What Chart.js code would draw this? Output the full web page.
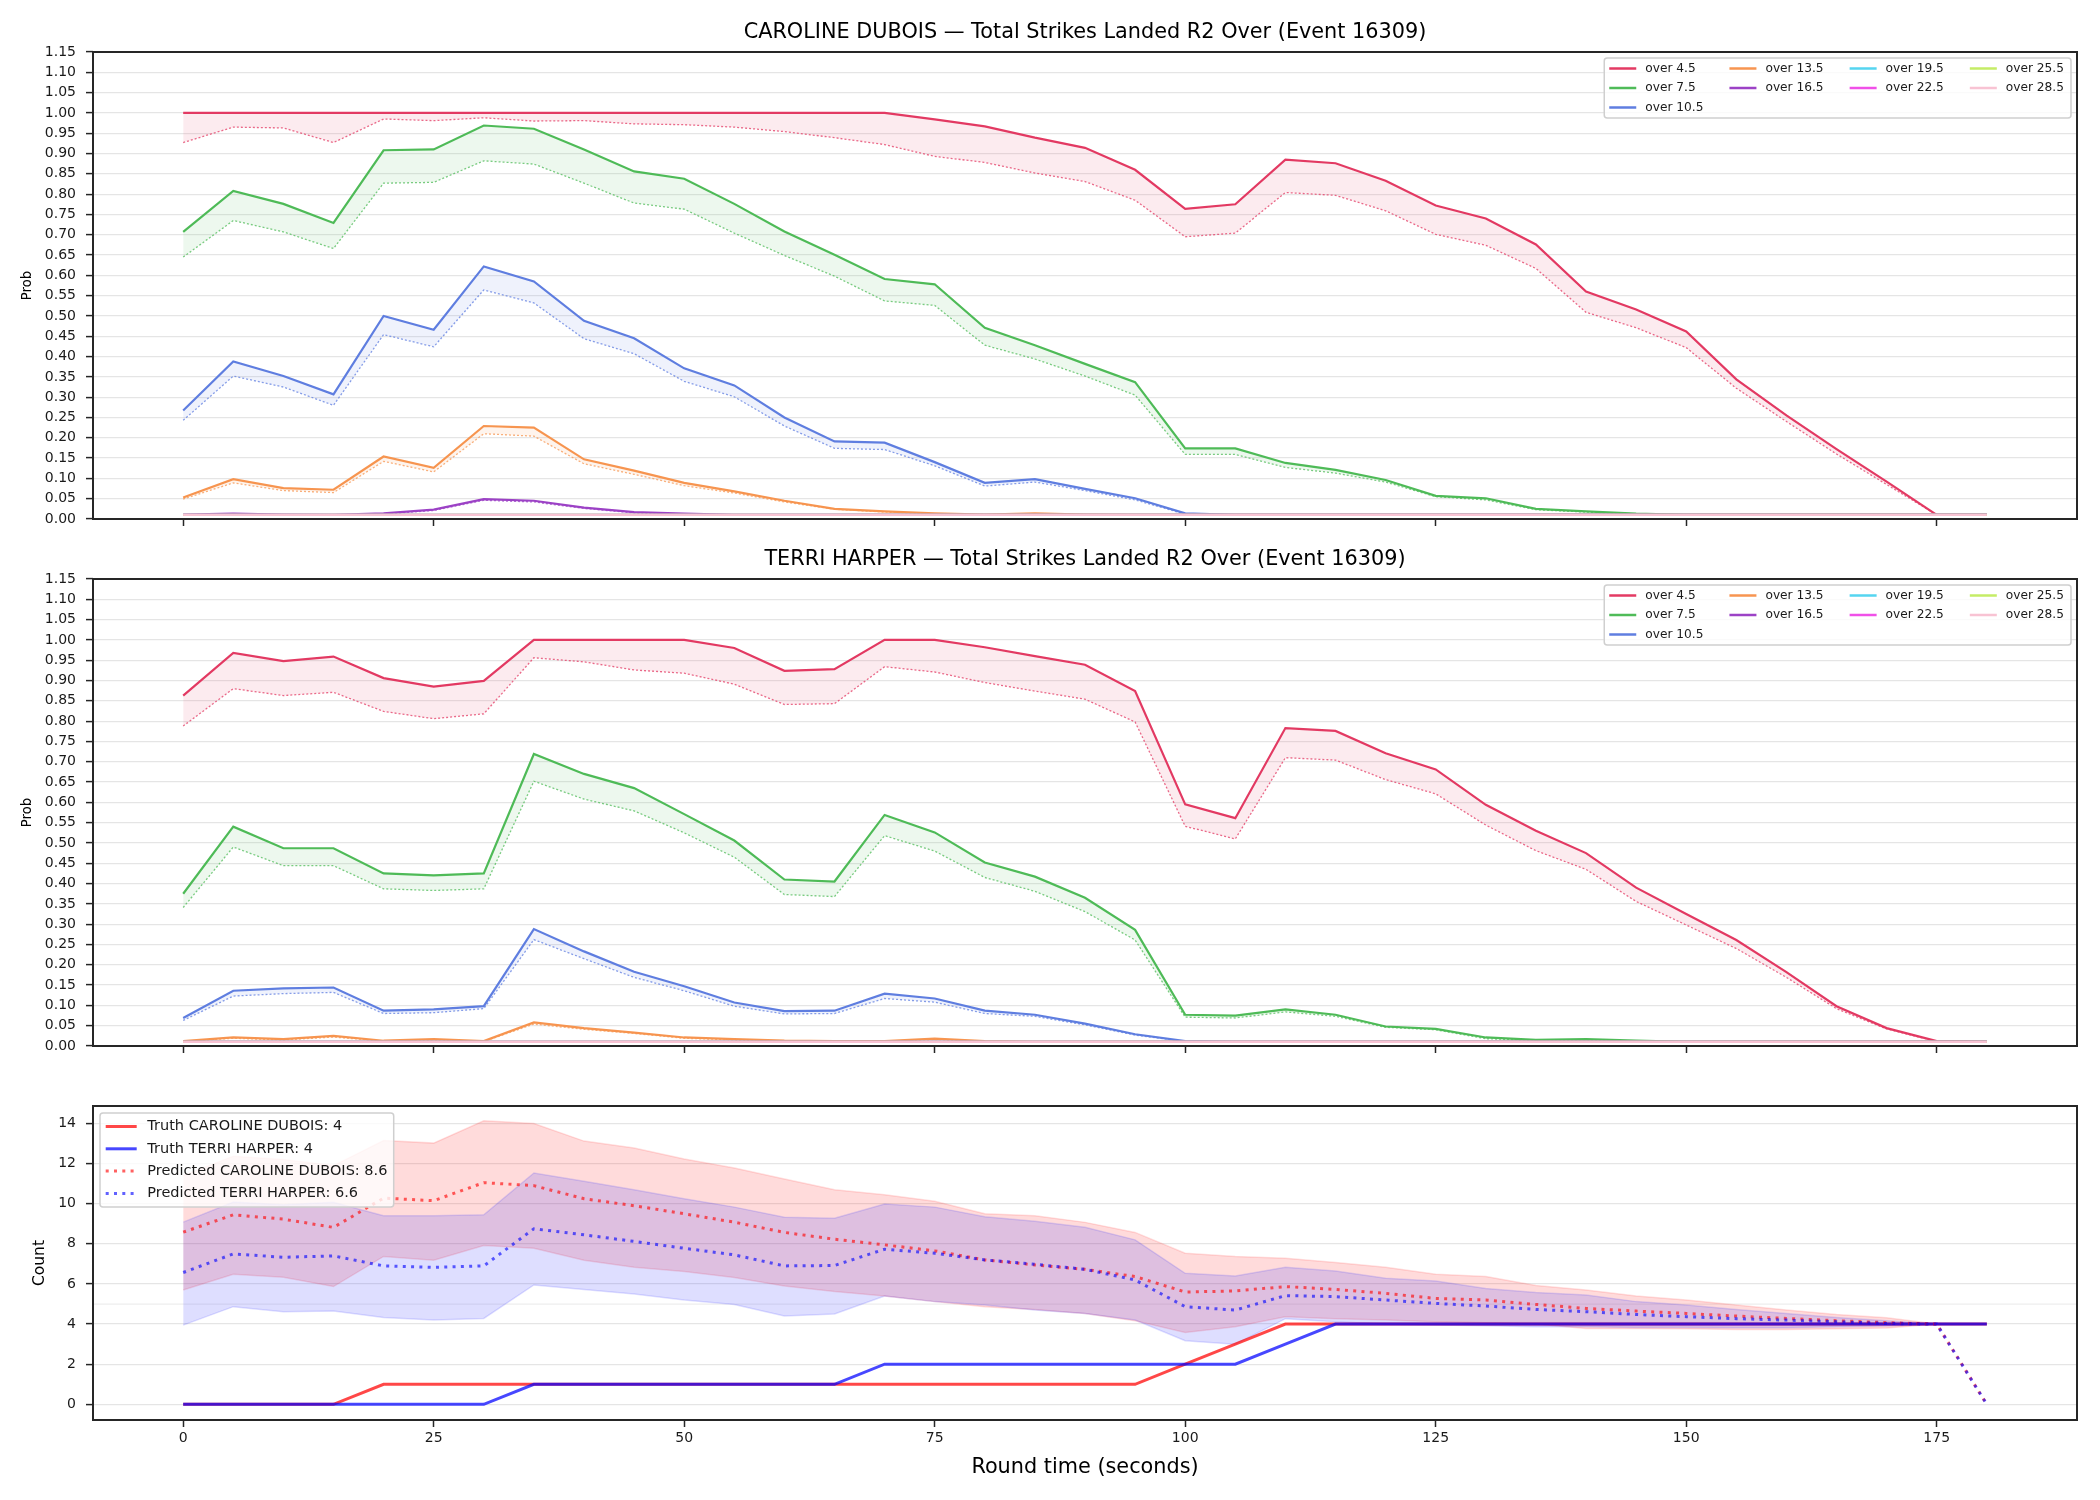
<!DOCTYPE html>
<html>
<head>
<meta charset="utf-8">
<title>Total Strikes Landed R2 Over (Event 16309)</title>
<script src="https://cdn.jsdelivr.net/npm/chart.js@4.4.1/dist/chart.umd.min.js"></script>
<style>
    body { margin: 0; background: #fff; width: 2100px; height: 1500px; position: relative; overflow: hidden; }
    canvas { position: absolute; left: 0; }
</style>
</head>
<body>
<canvas id="duboisChart" width="2100" height="540" style="top:0;width:2100px;height:540px"></canvas>
<canvas id="harperChart" width="2100" height="527" style="top:540px;width:2100px;height:527px"></canvas>
<canvas id="countChart" width="2100" height="433" style="top:1067px;width:2100px;height:433px"></canvas>
<script>
'use strict';

// ---- data ----
const timeSec = [0, 5, 10, 15, 20, 25, 30, 35, 40, 45, 50, 55, 60, 65, 70, 75, 80, 85, 90, 95,
    100, 105, 110, 115, 120, 125, 130, 135, 140, 145, 150, 155, 160, 165, 170, 175, 180];
const timeTicks = [0, 25, 50, 75, 100, 125, 150, 175];
const probTickLabels = ['0.00', '0.05', '0.10', '0.15', '0.20', '0.25', '0.30', '0.35', '0.40', '0.45',
    '0.50', '0.55', '0.60', '0.65', '0.70', '0.75', '0.80', '0.85', '0.90', '0.95', '1.00', '1.05', '1.10', '1.15'];
const countTicks = [0, 2, 4, 6, 8, 10, 12, 14];
const countRefLine = 5;
const thresholds = ['over 4.5', 'over 7.5', 'over 10.5', 'over 13.5', 'over 16.5',
    'over 19.5', 'over 22.5', 'over 25.5', 'over 28.5'];

// lines that sit on the 0.01 floor the whole round
const flatFloor = [0.010, 0.010, 0.010, 0.010, 0.010, 0.010, 0.010, 0.010, 0.010, 0.010,
    0.010, 0.010, 0.010, 0.010, 0.010, 0.010, 0.010, 0.010, 0.010, 0.010,
    0.010, 0.010, 0.010, 0.010, 0.010, 0.010, 0.010, 0.010, 0.010, 0.010,
    0.010, 0.010, 0.010, 0.010, 0.010, 0.010, 0.010];

// CAROLINE DUBOIS: solid = market, dotted = lower line
const duboisOver45 = [1.00, 1.00, 1.00, 1.00, 1.00, 1.00, 1.00, 1.00, 1.00, 1.00,
    1.00, 1.00, 1.00, 1.00, 1.00, 0.984, 0.967, 0.939, 0.914, 0.860,
    0.764, 0.775, 0.885, 0.876, 0.833, 0.772, 0.740, 0.676, 0.560, 0.516,
    0.462, 0.344, 0.255, 0.172, 0.092, 0.010, 0.010];
const duboisOver45Lo = [0.927, 0.965, 0.963, 0.927, 0.985, 0.981, 0.988, 0.980, 0.981, 0.973,
    0.971, 0.965, 0.954, 0.939, 0.922, 0.893, 0.878, 0.852, 0.831, 0.785,
    0.695, 0.704, 0.804, 0.797, 0.759, 0.701, 0.674, 0.617, 0.509, 0.471,
    0.422, 0.322, 0.240, 0.160, 0.085, 0.010, 0.010];
const duboisOver75 = [0.707, 0.808, 0.776, 0.729, 0.908, 0.910, 0.969, 0.961, 0.910, 0.856,
    0.838, 0.776, 0.708, 0.651, 0.591, 0.578, 0.471, 0.428, 0.382, 0.337,
    0.174, 0.174, 0.138, 0.121, 0.096, 0.057, 0.051, 0.025, 0.019, 0.013,
    0.010, 0.010, 0.010, 0.010, 0.010, 0.010, 0.010];
const duboisOver75Lo = [0.645, 0.735, 0.707, 0.666, 0.827, 0.829, 0.882, 0.874, 0.827, 0.778,
    0.763, 0.704, 0.649, 0.598, 0.537, 0.526, 0.428, 0.394, 0.352, 0.305,
    0.159, 0.159, 0.127, 0.113, 0.091, 0.055, 0.047, 0.023, 0.017, 0.012,
    0.010, 0.010, 0.010, 0.010, 0.010, 0.010, 0.010];
const duboisOver105 = [0.267, 0.388, 0.352, 0.307, 0.500, 0.466, 0.622, 0.585, 0.488, 0.445,
    0.371, 0.329, 0.250, 0.191, 0.188, 0.140, 0.089, 0.098, 0.074, 0.051,
    0.014, 0.010, 0.010, 0.010, 0.010, 0.010, 0.010, 0.010, 0.010, 0.010,
    0.010, 0.010, 0.010, 0.010, 0.010, 0.010, 0.010];
const duboisOver105Lo = [0.243, 0.352, 0.325, 0.280, 0.454, 0.424, 0.564, 0.532, 0.444, 0.407,
    0.339, 0.301, 0.229, 0.174, 0.171, 0.131, 0.081, 0.091, 0.070, 0.047,
    0.012, 0.010, 0.010, 0.010, 0.010, 0.010, 0.010, 0.010, 0.010, 0.010,
    0.010, 0.010, 0.010, 0.010, 0.010, 0.010, 0.010];
const duboisOver135 = [0.053, 0.098, 0.076, 0.072, 0.154, 0.126, 0.229, 0.225, 0.147, 0.119,
    0.089, 0.068, 0.045, 0.025, 0.019, 0.014, 0.011, 0.014, 0.011, 0.010,
    0.010, 0.010, 0.010, 0.010, 0.010, 0.010, 0.010, 0.010, 0.010, 0.010,
    0.010, 0.010, 0.010, 0.010, 0.010, 0.010, 0.010];
const duboisOver135Lo = [0.049, 0.089, 0.070, 0.065, 0.142, 0.116, 0.210, 0.204, 0.136, 0.110,
    0.082, 0.064, 0.042, 0.024, 0.017, 0.013, 0.010, 0.012, 0.010, 0.010,
    0.010, 0.010, 0.010, 0.010, 0.010, 0.010, 0.010, 0.010, 0.010, 0.010,
    0.010, 0.010, 0.010, 0.010, 0.010, 0.010, 0.010];
const duboisOver165 = [0.011, 0.013, 0.011, 0.010, 0.014, 0.023, 0.049, 0.045, 0.028, 0.017,
    0.013, 0.010, 0.010, 0.010, 0.010, 0.010, 0.010, 0.010, 0.010, 0.010,
    0.010, 0.010, 0.010, 0.010, 0.010, 0.010, 0.010, 0.010, 0.010, 0.010,
    0.010, 0.010, 0.010, 0.010, 0.010, 0.010, 0.010];
const duboisOver165Lo = [0.010, 0.011, 0.010, 0.010, 0.012, 0.021, 0.046, 0.042, 0.026, 0.015,
    0.011, 0.010, 0.010, 0.010, 0.010, 0.010, 0.010, 0.010, 0.010, 0.010,
    0.010, 0.010, 0.010, 0.010, 0.010, 0.010, 0.010, 0.010, 0.010, 0.010,
    0.010, 0.010, 0.010, 0.010, 0.010, 0.010, 0.010];

// TERRI HARPER
const harperOver45 = [0.863, 0.968, 0.948, 0.959, 0.906, 0.885, 0.899, 1.000, 1.000, 1.000,
    1.000, 0.980, 0.924, 0.928, 1.000, 1.000, 0.982, 0.960, 0.939, 0.874,
    0.595, 0.561, 0.783, 0.776, 0.721, 0.681, 0.594, 0.530, 0.475, 0.390,
    0.325, 0.261, 0.182, 0.098, 0.044, 0.012, 0.010];
const harperOver45Lo = [0.788, 0.880, 0.863, 0.871, 0.824, 0.806, 0.818, 0.956, 0.946, 0.926,
    0.918, 0.891, 0.841, 0.843, 0.934, 0.921, 0.895, 0.874, 0.854, 0.798,
    0.541, 0.510, 0.710, 0.704, 0.656, 0.621, 0.544, 0.481, 0.435, 0.356,
    0.298, 0.240, 0.169, 0.092, 0.042, 0.011, 0.010];
const harperOver75 = [0.375, 0.540, 0.487, 0.487, 0.425, 0.420, 0.425, 0.719, 0.670, 0.635,
    0.571, 0.506, 0.410, 0.405, 0.569, 0.526, 0.452, 0.417, 0.365, 0.286,
    0.077, 0.075, 0.090, 0.077, 0.048, 0.042, 0.021, 0.015, 0.017, 0.013,
    0.010, 0.010, 0.010, 0.010, 0.010, 0.010, 0.010];
const harperOver75Lo = [0.341, 0.490, 0.444, 0.444, 0.387, 0.383, 0.387, 0.652, 0.608, 0.579,
    0.525, 0.465, 0.373, 0.368, 0.518, 0.480, 0.415, 0.381, 0.331, 0.261,
    0.071, 0.069, 0.084, 0.073, 0.046, 0.040, 0.018, 0.014, 0.015, 0.012,
    0.010, 0.010, 0.010, 0.010, 0.010, 0.010, 0.010];
const harperOver105 = [0.069, 0.136, 0.142, 0.144, 0.087, 0.090, 0.098, 0.288, 0.233, 0.183,
    0.147, 0.107, 0.086, 0.087, 0.129, 0.117, 0.087, 0.077, 0.055, 0.029,
    0.012, 0.010, 0.010, 0.010, 0.010, 0.010, 0.010, 0.010, 0.010, 0.010,
    0.010, 0.010, 0.010, 0.010, 0.010, 0.010, 0.010];
const harperOver105Lo = [0.063, 0.123, 0.129, 0.132, 0.080, 0.082, 0.092, 0.262, 0.215, 0.169,
    0.136, 0.098, 0.079, 0.080, 0.117, 0.108, 0.080, 0.073, 0.052, 0.027,
    0.011, 0.010, 0.010, 0.010, 0.010, 0.010, 0.010, 0.010, 0.010, 0.010,
    0.010, 0.010, 0.010, 0.010, 0.010, 0.010, 0.010];
const harperOver135 = [0.012, 0.021, 0.017, 0.025, 0.013, 0.017, 0.012, 0.058, 0.044, 0.033,
    0.021, 0.017, 0.013, 0.012, 0.012, 0.018, 0.012, 0.010, 0.010, 0.010,
    0.010, 0.010, 0.010, 0.010, 0.010, 0.010, 0.010, 0.010, 0.010, 0.010,
    0.010, 0.010, 0.010, 0.010, 0.010, 0.010, 0.010];
const harperOver135Lo = [0.011, 0.019, 0.015, 0.022, 0.012, 0.015, 0.011, 0.054, 0.041, 0.031,
    0.019, 0.015, 0.012, 0.011, 0.011, 0.016, 0.011, 0.010, 0.010, 0.010,
    0.010, 0.010, 0.010, 0.010, 0.010, 0.010, 0.010, 0.010, 0.010, 0.010,
    0.010, 0.010, 0.010, 0.010, 0.010, 0.010, 0.010];

// Count panel
const truthDubois = [0, 0, 0, 0, 1, 1, 1, 1, 1, 1, 1, 1, 1, 1, 1, 1, 1, 1, 1, 1,
    2, 3, 4, 4, 4, 4, 4, 4, 4, 4, 4, 4, 4, 4, 4, 4, 4];
const truthHarper = [0, 0, 0, 0, 0, 0, 0, 1, 1, 1, 1, 1, 1, 1, 2, 2, 2, 2, 2, 2,
    2, 2, 3, 4, 4, 4, 4, 4, 4, 4, 4, 4, 4, 4, 4, 4, 4];
const predDubois = [8.58, 9.45, 9.23, 8.82, 10.28, 10.15, 11.05, 10.90, 10.25, 9.90,
    9.50, 9.08, 8.57, 8.23, 7.95, 7.65, 7.20, 6.95, 6.73, 6.37,
    5.60, 5.65, 5.87, 5.73, 5.53, 5.28, 5.20, 4.98, 4.78, 4.65,
    4.53, 4.40, 4.28, 4.17, 4.07, 4.00, 0];
const predHarper = [6.57, 7.50, 7.33, 7.40, 6.90, 6.83, 6.90, 8.75, 8.45, 8.12,
    7.78, 7.45, 6.90, 6.92, 7.73, 7.53, 7.20, 6.98, 6.73, 6.20,
    4.87, 4.70, 5.42, 5.37, 5.20, 5.03, 4.90, 4.73, 4.62, 4.48,
    4.37, 4.27, 4.20, 4.12, 4.03, 4.00, 0];
const duboisBandHi = [11.40, 12.37, 12.20, 11.90, 13.15, 13.02, 14.13, 14.00, 13.12, 12.78,
    12.23, 11.78, 11.23, 10.70, 10.45, 10.12, 9.50, 9.40, 9.07, 8.57,
    7.53, 7.37, 7.28, 7.07, 6.83, 6.48, 6.37, 5.92, 5.70, 5.40,
    5.20, 4.95, 4.70, 4.48, 4.32, 4.00, 4.00];
const duboisBandLo = [5.70, 6.48, 6.33, 5.87, 7.37, 7.18, 7.92, 7.78, 7.18, 6.83,
    6.62, 6.32, 5.90, 5.62, 5.40, 5.12, 4.87, 4.73, 4.53, 4.17,
    3.58, 3.87, 4.37, 4.27, 4.20, 4.12, 4.07, 4.00, 3.78, 3.78,
    3.77, 3.73, 3.73, 3.77, 3.80, 4.00, 4.00];
const harperBandHi = [9.08, 10.08, 9.95, 10.07, 9.40, 9.40, 9.45, 11.53, 11.12, 10.70,
    10.25, 9.83, 9.32, 9.28, 9.98, 9.83, 9.35, 9.12, 8.83, 8.20,
    6.53, 6.40, 6.83, 6.65, 6.28, 6.15, 5.78, 5.57, 5.45, 5.12,
    4.95, 4.73, 4.53, 4.33, 4.17, 4.00, 4.00];
const harperBandLo = [3.95, 4.87, 4.62, 4.65, 4.33, 4.20, 4.28, 5.95, 5.73, 5.50,
    5.20, 4.98, 4.40, 4.50, 5.40, 5.12, 4.95, 4.70, 4.53, 4.20,
    3.17, 3.00, 4.27, 4.12, 4.00, 3.95, 3.92, 3.87, 3.87, 3.83,
    3.83, 3.82, 3.82, 3.87, 3.90, 4.00, 4.00];

// ---- styles ----
const lineColors = ['#e33a63', '#4fbb58', '#5f7ee0', '#f79550', '#9c42c6',
    '#55d5f0', '#f050e8', '#c5ec66', '#f8c3d3'];
const FONT = '"DejaVu Sans", sans-serif';
const INK = '#1a1a1a';
const SPINE = '#262626';

Chart.defaults.font.family = FONT;
Chart.defaults.color = INK;

function fade(hex, alpha) {
    const n = parseInt(hex.slice(1), 16);
    return `rgba(${(n >> 16) & 255}, ${(n >> 8) & 255}, ${n & 255}, ${alpha})`;
}

function toPoints(values) {
    return timeSec.map((t, i) => ({ x: t, y: values[i] }));
}

// Frame, reference lines, axes title and a column-major legend (matplotlib style)
const panelDecor = {
    id: 'panelDecor',
    beforeDatasetsDraw(chart, args, opts) {
        const { ctx, chartArea: a } = chart;
        const yScale = chart.scales.y;
        (opts.refLines || []).forEach((v) => {
            const y = yScale.getPixelForValue(v);
            ctx.save();
            ctx.strokeStyle = 'rgba(0, 0, 0, 0.07)';
            ctx.lineWidth = 1.2;
            ctx.beginPath();
            ctx.moveTo(a.left, y);
            ctx.lineTo(a.right, y);
            ctx.stroke();
            ctx.restore();
        });
    },
    afterDatasetsDraw(chart) {
        const { ctx, chartArea: a } = chart;
        ctx.save();
        ctx.strokeStyle = SPINE;
        ctx.lineWidth = 2;
        ctx.strokeRect(a.left, a.top, a.right - a.left, a.bottom - a.top);
        ctx.restore();
    },
    afterDraw(chart, args, opts) {
        const { ctx, chartArea: a } = chart;
        if (opts.title) {
            ctx.save();
            ctx.font = `20.8px ${FONT}`;
            ctx.fillStyle = '#000';
            ctx.textAlign = 'center';
            ctx.textBaseline = 'middle';
            ctx.fillText(opts.title, (a.left + a.right) / 2, a.top - 19.5);
            ctx.restore();
        }
        if (opts.legend) {
            drawLegend(chart, opts.legend);
        }
    }
};

function drawLegend(chart, o) {
    const { ctx, chartArea: a } = chart;
    ctx.save();
    ctx.font = `${o.fontSize}px ${FONT}`;

    const n = o.items.length;
    const nrows = Math.ceil(n / o.ncol);
    const large = n % o.ncol || o.ncol;
    const columns = [];
    let k = 0;
    for (let c = 0; c < o.ncol; c++) {
        const cnt = c < large ? nrows : nrows - 1;
        columns.push(o.items.slice(k, k + cnt));
        k += cnt;
    }
    const colW = columns.map((col) =>
        o.handleLen + o.handleGap + Math.max(...col.map((it) => ctx.measureText(it.label).width)));
    const boxW = o.padL + colW.reduce((s, w) => s + w, 0) + o.colGap * (o.ncol - 1) + o.padR;
    const boxH = o.padT * 2 + o.rowGap * (nrows - 1);
    const left = o.loc === 'upper right' ? a.right - o.inset - boxW : a.left + o.inset;
    const top = a.top + o.inset;

    ctx.fillStyle = 'rgba(255, 255, 255, 0.8)';
    ctx.strokeStyle = '#cfcfcf';
    ctx.lineWidth = 1.5;
    ctx.beginPath();
    ctx.roundRect(left, top, boxW, boxH, 3);
    ctx.fill();
    ctx.stroke();

    let x = left + o.padL;
    columns.forEach((col, c) => {
        col.forEach((it, r) => {
            const y = top + o.padT + r * o.rowGap;
            ctx.strokeStyle = it.color;
            ctx.lineWidth = it.width;
            ctx.setLineDash(it.dash || []);
            ctx.beginPath();
            ctx.moveTo(x, y);
            ctx.lineTo(x + o.handleLen, y);
            ctx.stroke();
            ctx.setLineDash([]);
            ctx.fillStyle = INK;
            ctx.textAlign = 'left';
            ctx.textBaseline = 'middle';
            ctx.fillText(it.label, x + o.handleLen + o.handleGap, y);
        });
        x += colW[c] + o.colGap;
    });
    ctx.restore();
}

function xAxis(showLabels, height) {
    return {
        type: 'linear',
        min: -9,
        max: 189,
        afterBuildTicks: (scale) => { scale.ticks = timeTicks.map((v) => ({ value: v })); },
        afterFit: (scale) => { scale.height = height; },
        grid: { drawOnChartArea: false, tickLength: 7, tickColor: SPINE, tickWidth: 1.5 },
        border: { display: false },
        ticks: {
            display: showLabels,
            autoSkip: false,
            maxRotation: 0,
            padding: 3,
            font: { size: 14 },
            color: INK,
            callback: (v) => String(v)
        },
        title: {
            display: showLabels,
            text: 'Round time (seconds)',
            font: { size: 20.8 },
            color: '#000',
            padding: { top: 4, bottom: 20 }
        }
    };
}

function yAxis(min, max, values, labels, titleText, titleSize, titlePad) {
    return {
        type: 'linear',
        min: min,
        max: max,
        afterBuildTicks: (scale) => { scale.ticks = values.map((v) => ({ value: v })); },
        afterFit: (scale) => { scale.width = 93; },
        grid: { color: 'rgba(0, 0, 0, 0.1)', lineWidth: 1.2, tickLength: 7, tickColor: SPINE, tickWidth: 1.5 },
        border: { display: false },
        ticks: {
            autoSkip: false,
            padding: 10,
            font: { size: 14 },
            color: INK,
            callback: (v, i) => labels[i]
        },
        title: {
            display: true,
            text: titleText,
            font: { size: titleSize },
            color: '#000',
            padding: { top: titlePad, bottom: 0 }
        }
    };
}

const probLegend = {
    loc: 'upper right', inset: 6, ncol: 4, fontSize: 12.2,
    padL: 5, padR: 7, padT: 10.5, rowGap: 19.5,
    handleLen: 27, handleGap: 9, colGap: 26,
    items: thresholds.map((label, k) => ({ label: label, color: lineColors[k], width: 2.5 }))
};

function probChart(canvasId, title, hiSeries, loSeries, padTop) {
    const datasets = [];
    hiSeries.forEach((hi, k) => {
        datasets.push({
            label: thresholds[k],
            data: toPoints(hi),
            borderColor: lineColors[k],
            borderWidth: 2.2,
            fill: false
        });
        datasets.push({
            label: thresholds[k] + ' (lower)',
            data: toPoints(loSeries[k]),
            borderColor: fade(lineColors[k], 0.75),
            borderWidth: 1.3,
            borderDash: [2, 2],
            backgroundColor: fade(lineColors[k], 0.1),
            fill: '-1'
        });
    });
    datasets.forEach((ds, i) => {
        ds.order = -i;
        ds.pointRadius = 0;
        ds.tension = 0;
    });

    return new Chart(document.getElementById(canvasId), {
        type: 'line',
        data: { datasets: datasets },
        plugins: [panelDecor],
        options: {
            responsive: false,
            animation: false,
            devicePixelRatio: 1,
            layout: { padding: { top: padTop, right: 23, bottom: 0, left: 0 } },
            scales: {
                x: xAxis(false, 21),
                y: yAxis(0, 1.15, probTickLabels.map(Number), probTickLabels, 'Prob', 13.2, 20)
            },
            plugins: {
                legend: { display: false },
                tooltip: { enabled: false },
                panelDecor: { title: title, legend: probLegend }
            }
        }
    });
}

probChart('duboisChart', 'CAROLINE DUBOIS \u2014 Total Strikes Landed R2 Over (Event 16309)',
    [duboisOver45, duboisOver75, duboisOver105, duboisOver135, duboisOver165, flatFloor, flatFloor, flatFloor, flatFloor],
    [duboisOver45Lo, duboisOver75Lo, duboisOver105Lo, duboisOver135Lo, duboisOver165Lo, flatFloor, flatFloor, flatFloor, flatFloor],
    52);

probChart('harperChart', 'TERRI HARPER \u2014 Total Strikes Landed R2 Over (Event 16309)',
    [harperOver45, harperOver75, harperOver105, harperOver135, flatFloor, flatFloor, flatFloor, flatFloor, flatFloor],
    [harperOver45Lo, harperOver75Lo, harperOver105Lo, harperOver135Lo, flatFloor, flatFloor, flatFloor, flatFloor, flatFloor],
    39);

// ---- count panel ----
const RED = 'rgba(255, 0, 0, 0.72)';
const BLUE = 'rgba(0, 0, 255, 0.72)';
const RED_DOT = 'rgba(255, 0, 0, 0.62)';
const BLUE_DOT = 'rgba(0, 0, 255, 0.62)';
const DOTS = [3, 5.3];

const countSets = [
    { label: 'band dubois hi', data: toPoints(duboisBandHi), borderColor: 'rgba(255, 0, 0, 0.13)', borderWidth: 1.5, fill: false },
    { label: 'band dubois lo', data: toPoints(duboisBandLo), borderColor: 'rgba(255, 0, 0, 0.13)', borderWidth: 1.5,
        backgroundColor: 'rgba(255, 0, 0, 0.14)', fill: '-1' },
    { label: 'band harper hi', data: toPoints(harperBandHi), borderColor: 'rgba(0, 0, 255, 0.13)', borderWidth: 1.5, fill: false },
    { label: 'band harper lo', data: toPoints(harperBandLo), borderColor: 'rgba(0, 0, 255, 0.13)', borderWidth: 1.5,
        backgroundColor: 'rgba(0, 0, 255, 0.13)', fill: '-1' },
    { label: 'Truth CAROLINE DUBOIS: 4', data: toPoints(truthDubois), borderColor: RED, borderWidth: 3, fill: false },
    { label: 'Truth TERRI HARPER: 4', data: toPoints(truthHarper), borderColor: BLUE, borderWidth: 3, fill: false },
    { label: 'Predicted CAROLINE DUBOIS: 8.6', data: toPoints(predDubois), borderColor: RED_DOT, borderWidth: 3,
        borderDash: DOTS, fill: false },
    { label: 'Predicted TERRI HARPER: 6.6', data: toPoints(predHarper), borderColor: BLUE_DOT, borderWidth: 3,
        borderDash: DOTS, fill: false }
];
countSets.forEach((ds, i) => {
    ds.order = -i;
    ds.pointRadius = 0;
    ds.tension = 0;
});

const countLegend = {
    loc: 'upper left', inset: 7, ncol: 1, fontSize: 14.5,
    padL: 5.7, padR: 6.3, padT: 13.5, rowGap: 22.3,
    handleLen: 31, handleGap: 10.6, colGap: 0,
    items: [
        { label: countSets[4].label, color: RED, width: 3 },
        { label: countSets[5].label, color: BLUE, width: 3 },
        { label: countSets[6].label, color: RED_DOT, width: 3, dash: DOTS },
        { label: countSets[7].label, color: BLUE_DOT, width: 3, dash: DOTS }
    ]
};

new Chart(document.getElementById('countChart'), {
    type: 'line',
    data: { datasets: countSets },
    plugins: [panelDecor],
    options: {
        responsive: false,
        animation: false,
        devicePixelRatio: 1,
        layout: { padding: { top: 39, right: 23, bottom: 0, left: 0 } },
        scales: {
            x: xAxis(true, 80),
            y: yAxis(-0.78, 14.87, countTicks, countTicks.map(String), 'Count', 15.5, 31)
        },
        plugins: {
            legend: { display: false },
            tooltip: { enabled: false },
            panelDecor: { legend: countLegend, refLines: [countRefLine] }
        }
    }
});
</script>
</body>
</html>
